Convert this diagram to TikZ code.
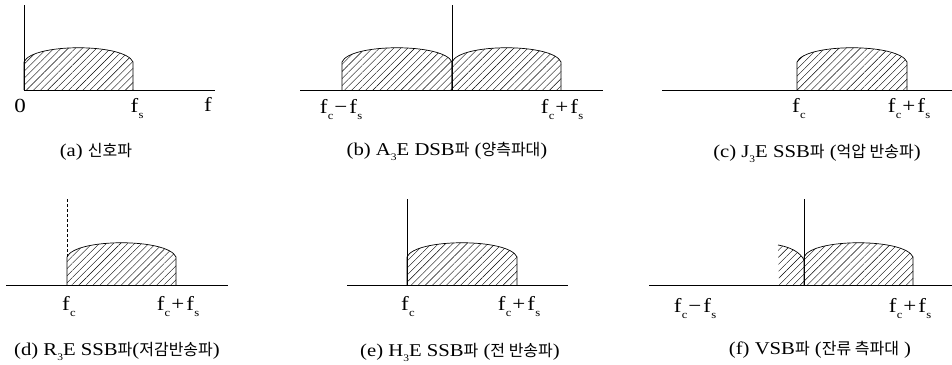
\documentclass[tikz,border=0pt]{standalone}
\usepackage{fontspec}
\setmainfont{Liberation Serif}[FakeStretch=1.15]
\newfontfamily\kr{Noto Sans CJK KR}
\usetikzlibrary{patterns.meta}
\newcommand\K[1]{{\fontsize{16}{18}\kr #1}}
\newcommand\fq[1]{f\kern0.3pt\raisebox{-6pt}{\fontsize{11}{11}\selectfont #1}}
\newcommand\lsub[1]{\raisebox{-5pt}{\fontsize{10}{10}\selectfont #1}}
\newcommand\lobe[3]{%
  \draw[hatch] (#1,#3) -- (#1,#3-28) .. controls (#1+8,#3-47) and (#2-8,#3-47) .. (#2,#3-28) -- (#2,#3);}
\tikzset{
  hatch/.style={line width=0.7pt,pattern={Lines[angle=45,distance=5pt,line width=0.4pt]}},
  axis/.style={line width=0.8pt},
  lbl/.style={anchor=base,inner sep=0pt,font=\fontsize{20}{22}\selectfont},
  captext/.style={anchor=base,inner sep=0pt,font=\fontsize{18}{20}\selectfont},
}
\begin{document}
\begin{tikzpicture}[x=1pt,y=-1pt]
\useasboundingbox (0,0) rectangle (952,364);
% ---------- (a)
\coordinate (a0) at (24,90); \coordinate (ay) at (24,5); \coordinate (ax) at (215,90);
\lobe{24}{133}{90}
\draw[axis] (ay) -- (a0) -- (ax);
\node[lbl] (a-zero) at (20,112) {0};
\node[lbl] (a-fs) at (137,112) {\fq{s}};
\node[lbl] (a-f) at (208,111) {f};
\node[captext] (a-cap) at (96,156) {(a) \K{신호파}};
% ---------- (b)
\coordinate (bl) at (300,90); \coordinate (br) at (603,90);
\coordinate (bc) at (452,90); \coordinate (bt) at (452,5);
\lobe{342}{452}{90}
\lobe{452}{561}{90}
\draw[axis] (bl) -- (br);
\draw[axis] (bc) -- (bt);
\node[lbl] (b-l) at (341,113) {\fq{c}\kern1pt−\kern2pt\fq{s}};
\node[lbl] (b-r) at (562,113) {\fq{c}\kern1pt+\kern2pt\fq{s}};
\node[captext] (b-cap) at (447,155) {(b) A\lsub{3}E DSB\K{파} (\K{양측파대})};
% ---------- (c)
\coordinate (cl) at (662,90); \coordinate (cr) at (952,90);
\lobe{797}{907}{90}
\draw[axis] (cl) -- (cr);
\node[lbl] (c-l) at (799,112) {\fq{c}};
\node[lbl] (c-r) at (909,112) {\fq{c}\kern1pt+\kern2pt\fq{s}};
\node[captext] (c-cap) at (817,157) {(c) J\lsub{3}E SSB\K{파} (\K{억압 반송파})};
% ---------- (d)
\coordinate (dl) at (6,285); \coordinate (dr) at (228,285);
\coordinate (dt) at (67,199); \coordinate (dm) at (67,257);
\lobe{67}{176}{285}
\draw[axis] (dl) -- (dr);
\draw[line width=0.7pt,dash pattern=on 3pt off 2pt] (dt) -- (dm);
\node[lbl] (d-l) at (69,310) {\fq{c}};
\node[lbl] (d-r) at (178,310) {\fq{c}\kern1pt+\kern2pt\fq{s}};
\node[captext] (d-cap) at (117,355) {(d) R\lsub{3}E SSB\K{파}(\K{저감반송파})};
% ---------- (e)
\coordinate (el) at (347,285); \coordinate (er) at (568,285);
\coordinate (eb) at (407,285); \coordinate (et) at (407,199);
\lobe{407}{517}{285}
\draw[axis] (el) -- (er);
\draw[axis] (eb) -- (et);
\node[lbl] (e-l) at (408,310) {\fq{c}};
\node[lbl] (e-r) at (519,310) {\fq{c}\kern1pt+\kern2pt\fq{s}};
\node[captext] (e-cap) at (460,356) {(e) H\lsub{3}E SSB\K{파} (\K{전 반송파})};
% ---------- (f)
\coordinate (fl) at (649,285); \coordinate (fr) at (952,285);
\coordinate (fb) at (804,285); \coordinate (ft) at (804,199);
\path[pattern={Lines[angle=45,distance=5pt,line width=0.4pt]}]
  (779,285) -- (778,245) .. controls (790,247) and (800,252) .. (804,260) -- (804,285) -- cycle;
\draw[line width=0.7pt] (778,245) .. controls (790,247) and (800,252) .. (804,260);
\lobe{804}{913}{285}
\draw[axis] (fl) -- (fr);
\draw[axis] (fb) -- (ft);
\node[lbl] (f-l) at (695,312) {\fq{c}\kern1pt−\kern2pt\fq{s}};
\node[lbl] (f-r) at (910,312) {\fq{c}\kern1pt+\kern2pt\fq{s}};
\node[captext] (f-cap) at (820,354) {(f) VSB\K{파} (\K{잔류 측파대} )};
\end{tikzpicture}
\end{document}
